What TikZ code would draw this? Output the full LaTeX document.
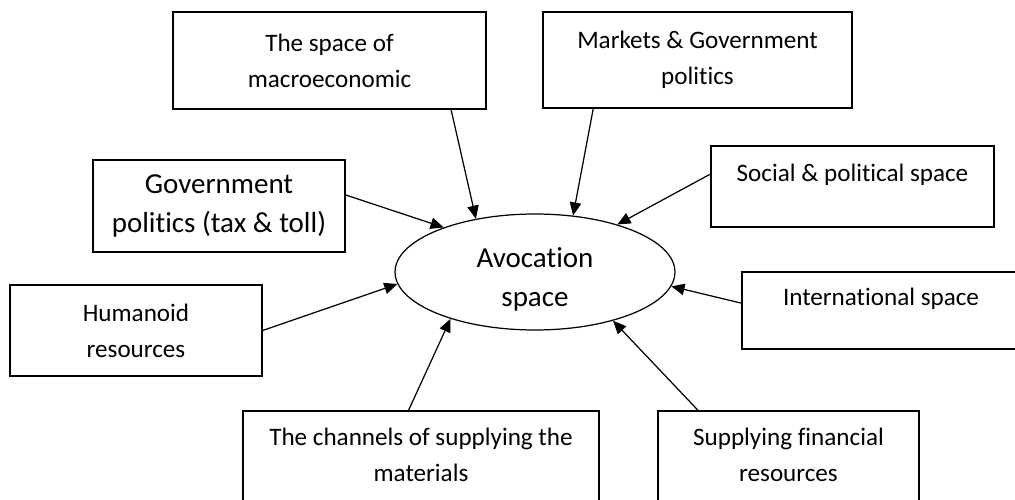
\documentclass[tikz,border=0pt]{standalone}
\usepackage{fontspec}
\setmainfont{Carlito}[Ligatures={NoCommon}]
\usetikzlibrary{arrows.meta,shapes.geometric}

\begin{document}
\begin{tikzpicture}[x=0.02cm, y=-0.02cm,
		box/.style={draw, line width=0.7pt, inner sep=0pt, align=center,
			font=\fontsize{14.3}{20.4}\selectfont},
		big/.style={font=\fontsize{16.5}{22}\selectfont},
		feed/.style={line width=0.7pt, -{Triangle[length=7.5pt,width=6.5pt]}}]
		\useasboundingbox (0,0) rectangle (1015,500);
		% centre
		\node[draw, ellipse, line width=0.7pt, inner sep=0pt, big,
			minimum width=5.6cm, minimum height=2.32cm] (avo) at (535,272)
			{\raisebox{-4pt}[\height][\depth]{\begin{tabular}{@{}c@{}}Avocation\\space\end{tabular}}};
		% boxes round it
		\node[box, minimum width=6.26cm, minimum height=1.94cm] (macro) at (329.5,60.5) {The space of\\macroeconomic};
		\node[box, minimum width=6.18cm, minimum height=1.92cm] (markets) at (697.5,60) {Markets \& Government\\politics};
		\node[box, minimum width=5.66cm, minimum height=1.62cm] (social) at (852.5,186.5) {Social \& political space\\[-5pt]\mbox{}};
		\node[box, big, minimum width=5.04cm, minimum height=1.84cm] (gov) at (219,206) {Government\\politics (tax \& toll)};
		\node[box, minimum width=5.04cm, minimum height=1.82cm] (human) at (136,330.5) {Humanoid\\resources};
		\node[box, minimum width=5.56cm, minimum height=1.54cm] (intl) at (881,310.5) {International space\\[-5pt]\mbox{}};
		\node[box, minimum width=7.12cm, minimum height=1.98cm] (channels) at (421,460.5) {The channels of supplying the\\materials\\[-14pt]\mbox{}};
		\node[box, minimum width=5.22cm, minimum height=1.98cm] (finance) at (788.5,460.5) {Supplying financial\\resources\\[-14pt]\mbox{}};
		% arrows into the ellipse
		\draw[feed] (macro.-22.4) -- (avo.138.6);
		\draw[feed] (markets.205.8) -- (avo.56.5);
		\draw[feed] (social.175) -- (avo.30.8);
		\draw[feed] (gov.5.4) -- (avo.154.4);
		\draw[feed] (human.east) -- (avo.185.4);
		\draw[feed] (intl.177.7) -- (avo.354);
		\draw[feed] (channels.104.7) -- (avo.209.3);
		\draw[feed] (finance.151.6) -- (avo.328.6);
	\end{tikzpicture}
\end{document}
